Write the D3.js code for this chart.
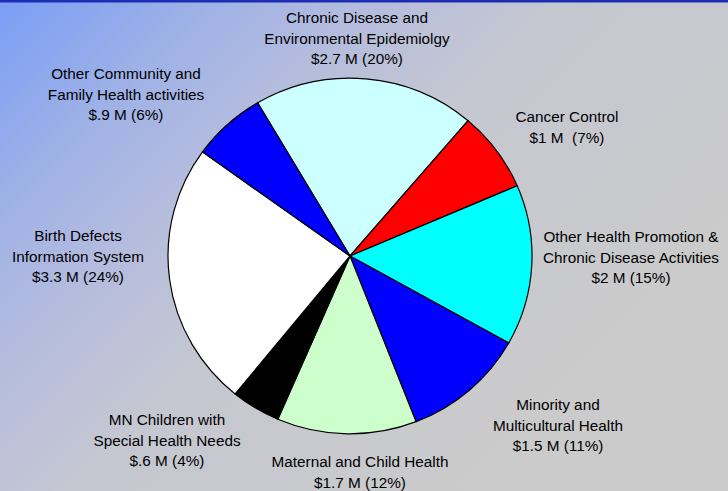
<!DOCTYPE html>
<html>
<head>
<meta charset="utf-8">
<style>
  body { margin: 0; }
  #pie text {
    font: 15.3px "Liberation Sans", Arial, sans-serif;
    fill: #000;
    text-anchor: middle;
    white-space: pre;
  }
  #pie .arc path {
    stroke: #000;
    stroke-width: 1.2;
  }
</style>
</head>
<body>
<svg id="pie" width="728" height="491"></svg>

<script src="https://cdn.jsdelivr.net/npm/d3@7"></script>
<script>
// budget by program, $ millions, clockwise from the top
var programs = [
  ["Chronic Disease and", "Environmental Epidemiolgy"],
  ["Cancer Control"],
  ["Other Health Promotion &", "Chronic Disease Activities"],
  ["Minority and", "Multicultural Health"],
  ["Maternal and Child Health"],
  ["MN Children with", "Special Health Needs"],
  ["Birth Defects", "Information System"],
  ["Other Community and", "Family Health activities"]
];
var amounts = [2.7, 1, 2, 1.5, 1.7, 0.6, 3.3, 0.9];
var amountText = ["$2.7 M", "$1 M ", "$2 M", "$1.5 M", "$1.7 M", "$.6 M", "$3.3 M", "$.9 M"];
var percents = [20, 7, 15, 11, 12, 4, 24, 6];

var colors = ["#ccffff", "#ff0000", "#00ffff", "#0000ff", "#ccffcc", "#000000", "#ffffff", "#0000ff"];

// where each label block is centred (first line)
var labelAt = [[357, 18], [567, 117], [631, 237], [558, 405], [360, 462], [167, 420], [78, 236], [126, 74]];

var svg = d3.select("#pie"),
    width = +svg.attr("width"),
    height = +svg.attr("height");

// background
var defs = svg.append("defs");
var grad = defs.append("linearGradient")
    .attr("id", "bg")
    .attr("gradientUnits", "userSpaceOnUse")
    .attr("x1", 0).attr("y1", 0)
    .attr("x2", 480).attr("y2", 480);
grad.append("stop").attr("offset", 0).attr("stop-color", "#7a9df6");
grad.append("stop").attr("offset", 0.2).attr("stop-color", "#9cb0e8");
grad.append("stop").attr("offset", 0.38).attr("stop-color", "#b4bcde");
grad.append("stop").attr("offset", 0.58).attr("stop-color", "#c5c7d1");
grad.append("stop").attr("offset", 1).attr("stop-color", "#cbcbcb");

svg.append("rect").attr("width", width).attr("height", height).attr("fill", "url(#bg)");
svg.append("rect").attr("width", width).attr("height", 2.5).attr("fill", "#1c2fb4");

var data = amounts.map(function(v, i) {
  return { name: programs[i], value: v, amount: amountText[i], pct: percents[i] };
});

var start = -30.5 * Math.PI / 180;
var pie = d3.pie()
    .sort(null)
    .startAngle(start)
    .endAngle(start + 2 * Math.PI)
    .value(function(d) { return d.value; });

var radius = 182;
var path = d3.arc().outerRadius(radius).innerRadius(0);

var g = svg.append("g")
    .attr("transform", "translate(350,256) scale(1,0.977)");

var arc = g.selectAll(".arc")
    .data(pie(data))
    .enter().append("g")
      .attr("class", "arc");

arc.append("path")
    .attr("d", path)
    .attr("vector-effect", "non-scaling-stroke")
    .attr("fill", function(d, i) { return colors[i]; });

// labels
var lineH = 20.5;
data.forEach(function(d, i) {
  var lines = d.name.concat([d.amount + " (" + d.pct + "%)"]);
  var t = svg.append("text")
      .attr("x", labelAt[i][0])
      .attr("y", labelAt[i][1]);
  lines.forEach(function(s, j) {
    t.append("tspan")
      .attr("x", labelAt[i][0])
      .attr("dy", j === 0 ? "0.35em" : lineH)
      .text(s);
  });
});
</script>
</body>
</html>
